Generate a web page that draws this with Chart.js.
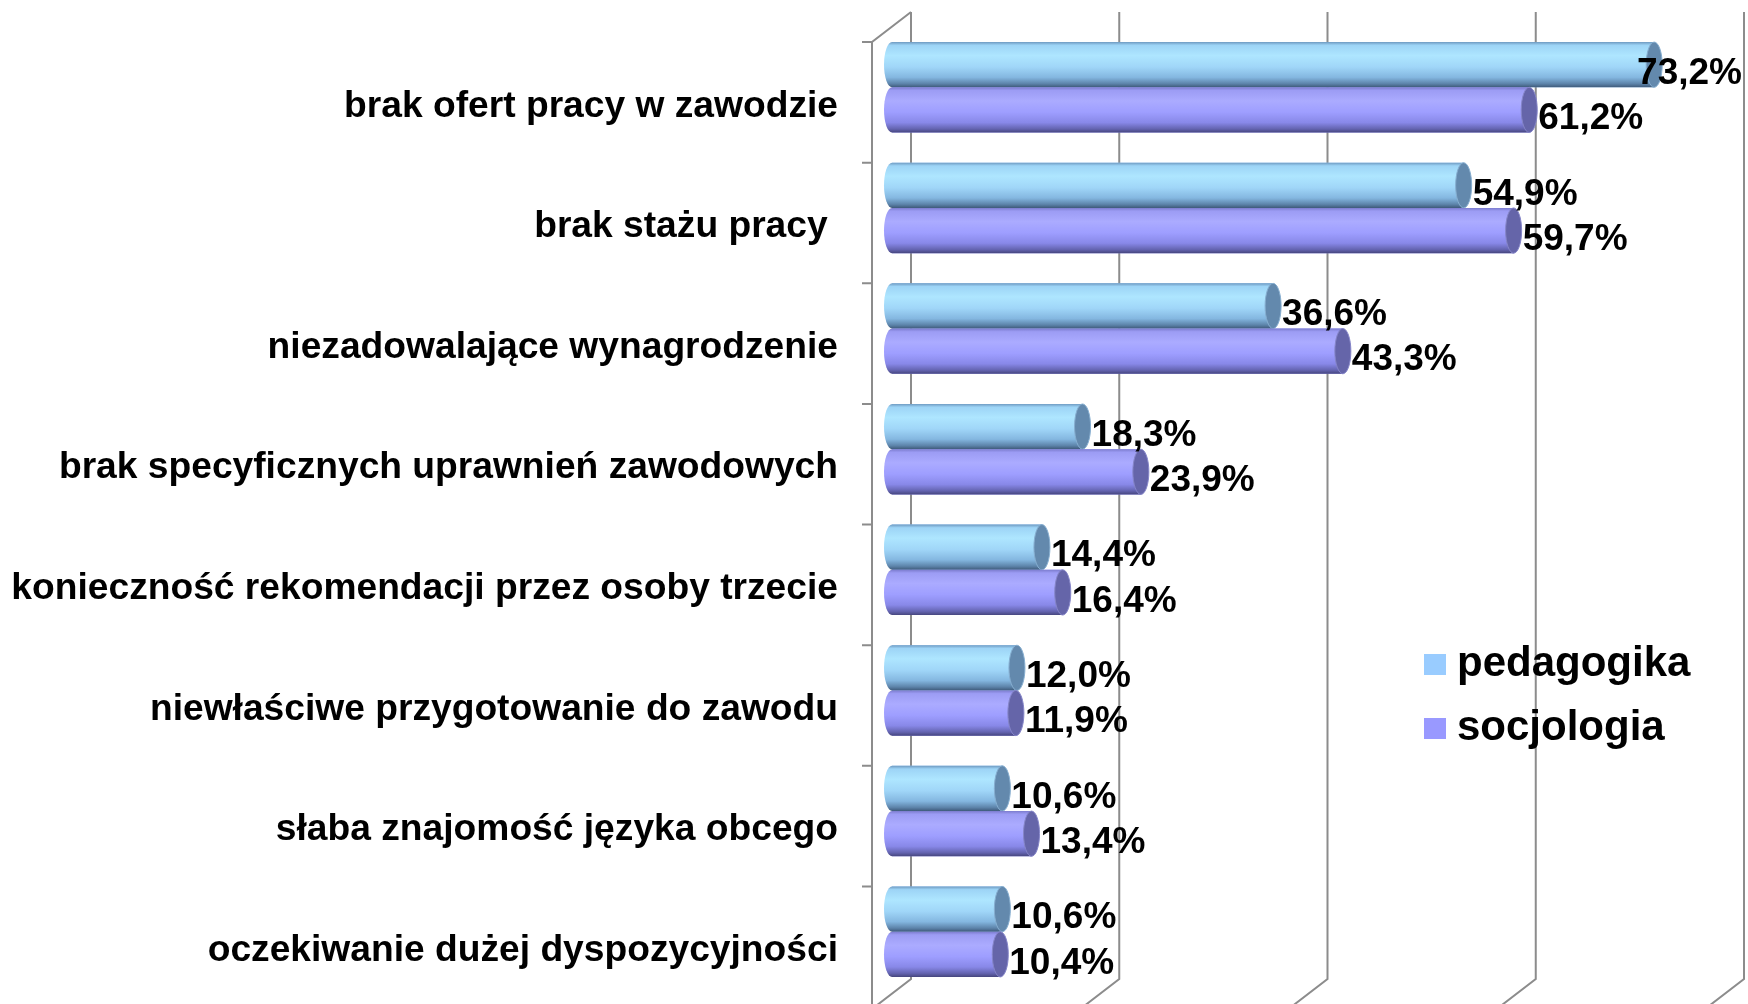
<!DOCTYPE html>
<html>
<head>
<meta charset="utf-8">
<script src="https://cdn.jsdelivr.net/npm/chart.js@4.4.0/dist/chart.umd.min.js"></script>
<style>
  html, body { margin: 0; padding: 0; background: #fff; }
  #wrap { position: relative; width: 1748px; height: 1004px; overflow: hidden; }
  #legend { position: absolute; left: 1424px; top: 638px; font: bold 42px "Liberation Sans", Arial, sans-serif; color: #000; }
  #legend div { height: 64px; line-height: 48px; white-space: nowrap; }
  #legend span { display: inline-block; width: 22px; height: 21px; margin-right: 11px; vertical-align: 1px; }
</style>
</head>
<body>
<div id="wrap">
  <canvas id="chart"></canvas>
  <div id="legend"></div>
</div>
<script>
const categories = [
  'brak ofert pracy w zawodzie',
  'brak stażu pracy ',
  'niezadowalające wynagrodzenie',
  'brak specyficznych uprawnień zawodowych',
  'konieczność rekomendacji przez osoby trzecie',
  'niewłaściwe przygotowanie do zawodu',
  'słaba znajomość języka obcego',
  'oczekiwanie dużej dyspozycyjności',
];
const pedagogika = [73.2, 54.9, 36.6, 18.3, 14.4, 12.0, 10.6, 10.6];
const socjologia = [61.2, 59.7, 43.3, 23.9, 16.4, 11.9, 13.4, 10.4];
const seriesNames = ['pedagogika', 'socjologia'];
const gridValues = [0, 20, 40, 60, 80];

const FONT = '"Liberation Sans", Arial, sans-serif';
const legendColors = ['#99ccff', '#9999ff'];
const bodyStops = [
  [[0, '#6f9bc2'], [0.07, '#9dd4f6'], [0.3, '#aee6ff'], [0.55, '#a0d6f8'], [0.78, '#84b7e0'], [0.92, '#5d84aa'], [1, '#3e5a7a']],
  [[0, '#7c7cce'], [0.07, '#9c9cf4'], [0.3, '#ababff'], [0.55, '#9e9eff'], [0.78, '#8888e8'], [0.92, '#6464b0'], [1, '#46467e']],
];
const capColors = ['#6389ad', '#6565a9'];
const capEdge = ['#86aed0', '#8585c8'];

// 3D frame: back wall gridlines, floor diagonals, front left axis with ticks
const frame = {
  id: 'frame',
  beforeDatasetsDraw(chart) {
    const { ctx, scales: { x, y } } = chart;
    const back = 19, front = -20, backTop = 12, backBottom = 979;
    ctx.save();
    ctx.strokeStyle = '#8c8c8c';
    ctx.lineWidth = 2;
    for (const v of gridValues) {
      const bx = x.getPixelForValue(v) + back;
      ctx.beginPath();
      ctx.moveTo(bx, backTop);
      ctx.lineTo(bx, backBottom);
      ctx.lineTo(bx - (back - front), backBottom + 30);
      ctx.stroke();
    }
    const fx = x.getPixelForValue(0) + front;
    const t0 = y.getPixelForValue(-0.5) + 15;
    ctx.beginPath();
    ctx.moveTo(x.getPixelForValue(0) + back, backTop);
    ctx.lineTo(fx, t0);
    ctx.lineTo(fx, 1004);
    for (let i = 0; i < categories.length; i++) {
      const ty = y.getPixelForValue(i - 0.5) + 15;
      ctx.moveTo(fx - 10, ty);
      ctx.lineTo(fx, ty);
    }
    ctx.stroke();
    ctx.restore();
  },
  afterDatasetsDraw(chart) {
    const { ctx } = chart;
    const rx = 8;
    ctx.save();
    chart.data.datasets.forEach((ds, di) => {
      chart.getDatasetMeta(di).data.forEach(el => {
        const x0 = el.base, x1 = el.x, cy = el.y, r = el.height / 2;
        const top = cy - r, bot = cy + r;
        const g = ctx.createLinearGradient(0, top, 0, bot);
        bodyStops[di].forEach(([o, c]) => g.addColorStop(o, c));
        ctx.beginPath();
        ctx.moveTo(x0, top);
        ctx.lineTo(x1, top);
        ctx.lineTo(x1, bot);
        ctx.lineTo(x0, bot);
        ctx.ellipse(x0, cy, rx, r, 0, Math.PI / 2, Math.PI * 1.5);
        ctx.closePath();
        ctx.fillStyle = g;
        ctx.fill();
        ctx.beginPath();
        ctx.ellipse(x1, cy, rx, r, 0, 0, Math.PI * 2);
        ctx.fillStyle = capColors[di];
        ctx.fill();
        ctx.strokeStyle = capEdge[di];
        ctx.lineWidth = 1;
        ctx.stroke();
      });
    });
    // value labels
    ctx.font = 'bold 37px ' + FONT;
    ctx.fillStyle = '#000';
    ctx.textBaseline = 'middle';
    ctx.textAlign = 'left';
    chart.data.datasets.forEach((ds, di) => {
      chart.getDatasetMeta(di).data.forEach((el, i) => {
        const txt = ds.data[i].toFixed(1).replace('.', ',') + '%';
        const w = ctx.measureText(txt).width;
        let tx = el.x + rx + 1;
        if (tx + w > 1742) tx = 1742 - w;
        ctx.fillText(txt, tx, el.y + 9);
      });
    });
    ctx.restore();
  }
};

new Chart(document.getElementById('chart'), {
  type: 'bar',
  data: {
    labels: categories,
    datasets: [
      { label: seriesNames[0], data: pedagogika, backgroundColor: legendColors[0] },
      { label: seriesNames[1], data: socjologia, backgroundColor: legendColors[1] },
    ],
  },
  options: {
    indexAxis: 'y',
    responsive: true, maintainAspectRatio: false,
    animation: false,
    events: [],
    layout: { padding: { top: 27, bottom: 12, left: 0, right: 23 } },
    datasets: { bar: { barPercentage: 1, categoryPercentage: 0.75 } },
    plugins: { legend: { display: false }, tooltip: { enabled: false } },
    scales: {
      x: { type: 'linear', min: 0, max: 80, display: false },
      y: {
        grid: { display: false, drawTicks: false },
        border: { display: false },
        ticks: { color: '#000', font: { family: FONT, size: 37.2, weight: 'bold' }, padding: 54, labelOffset: 19, autoSkip: false },
        afterFit(scale) { scale.width = 892; scale.paddingTop = 0; scale.paddingBottom = 0; },
      },
    },
  },
  plugins: [frame],
});

document.getElementById('legend').innerHTML = seriesNames
  .map((n, i) => `<div><span style="background:${legendColors[i]}"></span>${n}</div>`).join('');
</script>
</body>
</html>
